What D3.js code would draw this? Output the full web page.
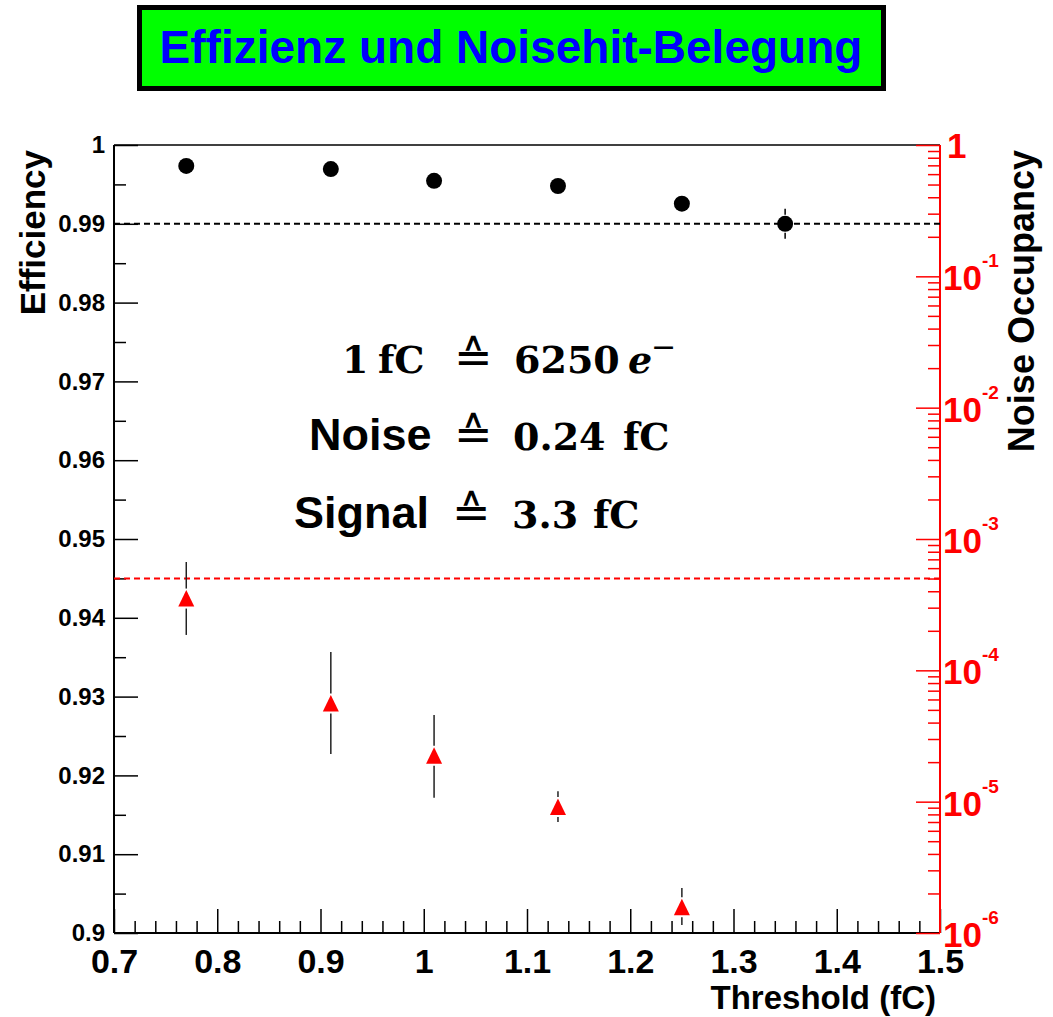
<!DOCTYPE html>
<html>
<head>
<meta charset="utf-8">
<title>Effizienz und Noisehit-Belegung</title>
<script src="https://d3js.org/d3.v7.min.js"></script>
<style>
  body { margin: 0; background: #fff; }
  svg { display: block; }
  .sans { font-family: "Liberation Sans", Arial, sans-serif; font-weight: bold; }
  .serif { font-family: "DejaVu Serif", serif; font-weight: bold; }
  .sym { font-family: "DejaVu Serif", serif; font-weight: normal; }
</style>
</head>
<body>
<svg width="1053" height="1017"></svg>
<script>
  // data
  const thresholds = [0.77, 0.91, 1.01, 1.13, 1.25, 1.35];
  const efficiency = [0.99734, 0.99695, 0.99545, 0.9948, 0.99255, 0.99000];
  const effError = [0.0006, 0.0006, 0.0007, 0.0007, 0.0009, 0.0019];

  const noiseThresholds = [0.77, 0.91, 1.01, 1.13, 1.25];
  const noiseOcc = [3.52e-4, 5.59e-5, 2.24e-5, 9.1e-6, 1.57e-6];
  const noiseLow = [1.86e-4, 2.31e-5, 1.07e-5, 7.0e-6, 1.15e-6];
  const noiseHigh = [6.68e-4, 1.38e-4, 4.57e-5, 1.20e-5, 2.20e-6];

  const effCut = 0.99;
  const noiseCut = 5e-4;

  const xTicks = [0.7, 0.8, 0.9, 1.0, 1.1, 1.2, 1.3, 1.4, 1.5];
  const xTickLabels = ["0.7", "0.8", "0.9", "1", "1.1", "1.2", "1.3", "1.4", "1.5"];
  const effTicks = [0.9, 0.91, 0.92, 0.93, 0.94, 0.95, 0.96, 0.97, 0.98, 0.99, 1.0];
  const effTickLabels = ["0.9", "0.91", "0.92", "0.93", "0.94", "0.95", "0.96", "0.97", "0.98", "0.99", "1"];
  const noiseDecades = [1e-6, 1e-5, 1e-4, 1e-3, 1e-2, 1e-1, 1];
  const noiseExponents = ["-6", "-5", "-4", "-3", "-2", "-1", ""];

  const svg = d3.select("svg");
  const pLeft = 114, pRight = 940, pTop = 145, pBottom = 933;
  const red = "#ff0000";

  let x = d3.scaleLinear().domain([0.7, 1.5]).range([pLeft, pRight]);
  let yEff = d3.scaleLinear().domain([0.9, 1.0]).range([pBottom, pTop]);
  let yNoise = d3.scaleLog().domain([1e-6, 1]).range([pBottom, pTop]);

  // title box
  svg.append("rect").attr("x", 139.5).attr("y", 7.5).attr("width", 744).attr("height", 81)
      .attr("fill", "#00ff00").attr("stroke", "#000").attr("stroke-width", 5);
  svg.append("text").attr("class", "sans").attr("x", 511).attr("y", 63)
      .attr("text-anchor", "middle").attr("font-size", 46).attr("fill", "#0000ff")
      .text("Effizienz und Noisehit-Belegung");

  // frame
  svg.append("line").attr("x1", pLeft).attr("x2", pRight).attr("y1", pTop).attr("y2", pTop)
      .attr("stroke", "#000").attr("stroke-width", 2);

  // x axis
  let xMinor = d3.range(0.72, 1.5, 0.02).filter(v => Math.abs(v * 10 - Math.round(v * 10)) > 1e-6);
  svg.append("g").attr("transform", "translate(0," + pBottom + ")")
      .call(d3.axisBottom(x).tickValues(xMinor).tickSize(-12).tickFormat(""))
      .call(g => g.select(".domain").remove());
  let gx = svg.append("g").attr("transform", "translate(0," + pBottom + ")");
  gx.call(d3.axisBottom(x).tickValues(xTicks).tickSize(-24).tickPadding(16)
      .tickFormat((d, i) => xTickLabels[i]));
  gx.select(".domain").attr("stroke-width", 2).attr("d", "M" + pLeft + ",0H" + pRight);
  gx.selectAll("text").attr("class", "sans").attr("font-size", 34).attr("fill", "#000").attr("dy", "0.71em");
  svg.selectAll("line").attr("stroke-width", 1.5);

  // left axis
  let effMinor = d3.range(0.905, 1.0, 0.01);
  svg.append("g").attr("transform", "translate(" + pLeft + ",0)")
      .call(d3.axisLeft(yEff).tickValues(effMinor).tickSize(-12).tickFormat(""))
      .call(g => g.select(".domain").remove())
      .selectAll("line").attr("stroke-width", 1.5);
  let gl = svg.append("g").attr("transform", "translate(" + pLeft + ",0)");
  gl.call(d3.axisLeft(yEff).tickValues(effTicks).tickSize(-24).tickPadding(9)
      .tickFormat((d, i) => effTickLabels[i]));
  gl.select(".domain").attr("stroke-width", 2).attr("d", "M0," + pTop + "V" + pBottom);
  gl.selectAll("line").attr("stroke-width", 1.5);
  gl.selectAll("text").attr("class", "sans").attr("font-size", 24).attr("fill", "#000");

  // right log axis (red)
  let noiseMinor = [];
  noiseDecades.slice(0, -1).forEach(d => { for (let k = 2; k <= 9; k++) noiseMinor.push(d * k); });
  svg.append("g").attr("transform", "translate(" + pRight + ",0)")
      .call(d3.axisRight(yNoise).tickValues(noiseMinor).tickSize(-12).tickFormat(""))
      .call(g => g.select(".domain").remove())
      .selectAll("line").attr("stroke", red).attr("stroke-width", 1.5);
  let gr = svg.append("g").attr("transform", "translate(" + pRight + ",0)");
  gr.call(d3.axisRight(yNoise).tickValues(noiseDecades).tickSize(-24).tickFormat(""));
  gr.select(".domain").attr("stroke", red).attr("stroke-width", 2).attr("d", "M0," + pTop + "V" + pBottom);
  gr.selectAll("line").attr("stroke", red).attr("stroke-width", 1.5);

  let rl = svg.append("g").attr("class", "sans").attr("fill", red);
  noiseDecades.forEach((d, i) => {
    let yy = yNoise(d);
    if (noiseExponents[i] === "") {
      rl.append("text").attr("x", 947).attr("y", yy + 13).attr("font-size", 35).text("1");
    } else {
      let t = rl.append("text").attr("x", 943).attr("y", yy + 14).attr("font-size", 35);
      t.append("tspan").text("10");
      t.append("tspan").attr("dx", 0).attr("dy", -23).attr("font-size", 19).text(noiseExponents[i]);
    }
  });

  // axis titles
  svg.append("text").attr("class", "sans").attr("font-size", 35)
      .attr("transform", "translate(45,150) rotate(-90)").attr("text-anchor", "end").text("Efficiency");
  svg.append("text").attr("class", "sans").attr("font-size", 36)
      .attr("transform", "translate(1034,150) rotate(-90)").attr("text-anchor", "end").text("Noise Occupancy");
  svg.append("text").attr("class", "sans").attr("font-size", 33)
      .attr("x", 936).attr("y", 1009).attr("text-anchor", "end").text("Threshold (fC)");

  // cut lines
  svg.append("line").attr("x1", pLeft).attr("x2", pRight)
      .attr("y1", yEff(effCut)).attr("y2", yEff(effCut))
      .attr("stroke", "#000").attr("stroke-width", 2).attr("stroke-dasharray", "6,4");
  svg.append("line").attr("x1", pLeft).attr("x2", pRight)
      .attr("y1", yNoise(noiseCut)).attr("y2", yNoise(noiseCut))
      .attr("stroke", red).attr("stroke-width", 2).attr("stroke-dasharray", "6,4");

  // efficiency points
  let effData = thresholds.map((t, i) => ({ t: t, v: efficiency[i], e: effError[i] }));
  let ge = svg.append("g");
  effData.forEach(d => {
    let cx = x(d.t), cy = yEff(d.v);
    let y1 = yEff(d.v + d.e), y2 = yEff(d.v - d.e);
    if (cy - y1 > 9) {
      ge.append("line").attr("x1", cx).attr("x2", cx).attr("y1", y1).attr("y2", cy - 9)
          .attr("stroke", "#000").attr("stroke-width", 1.5);
      ge.append("line").attr("x1", cx).attr("x2", cx).attr("y1", cy + 9).attr("y2", y2)
          .attr("stroke", "#000").attr("stroke-width", 1.5);
    }
    ge.append("circle").attr("cx", cx).attr("cy", cy).attr("r", 8).attr("fill", "#000");
  });

  // noise occupancy points
  let noiseData = noiseThresholds.map((t, i) => ({ t: t, v: noiseOcc[i], lo: noiseLow[i], hi: noiseHigh[i] }));
  let gn = svg.append("g");
  noiseData.forEach(d => {
    let cx = x(d.t), cy = yNoise(d.v);
    let y1 = yNoise(d.hi), y2 = yNoise(d.lo);
    gn.append("line").attr("x1", cx).attr("x2", cx).attr("y1", y1).attr("y2", cy - 10)
        .attr("stroke", "#222").attr("stroke-width", 1.5);
    gn.append("line").attr("x1", cx).attr("x2", cx).attr("y1", cy + 10).attr("y2", y2)
        .attr("stroke", "#222").attr("stroke-width", 1.5);
    gn.append("path")
        .attr("d", "M" + cx + "," + (cy - 8.5) + "L" + (cx + 8) + "," + (cy + 8) + "L" + (cx - 8) + "," + (cy + 8) + "Z")
        .attr("fill", red);
  });

  // annotation text
  const corr = "\u2259";
  let ann = svg.append("g").attr("fill", "#000");
  let t1 = ann.append("text").attr("y", 373).attr("font-size", 38);
  t1.append("tspan").attr("class", "serif").attr("x", 342).text("1");
  t1.append("tspan").attr("class", "serif").attr("x", 378).text("fC");
  t1.append("tspan").attr("class", "sym").attr("x", 454).attr("font-size", 46).text(corr);
  t1.append("tspan").attr("class", "serif").attr("x", 514).text("6250");
  t1.append("tspan").attr("class", "serif").attr("x", 628).attr("font-style", "italic").text("e");
  t1.append("tspan").attr("x", 651).attr("dy", -16).attr("font-family", "DejaVu Sans").attr("font-size", 30).text("\u2212");

  let t2 = ann.append("text").attr("y", 450).attr("font-size", 38);
  t2.append("tspan").attr("class", "sans").attr("x", 309).attr("font-size", 45).text("Noise");
  t2.append("tspan").attr("class", "sym").attr("x", 454).attr("font-size", 46).text(corr);
  t2.append("tspan").attr("class", "serif").attr("x", 513).text("0.24");
  t2.append("tspan").attr("class", "serif").attr("x", 623).text("fC");

  let t3 = ann.append("text").attr("y", 528).attr("font-size", 38);
  t3.append("tspan").attr("class", "sans").attr("x", 294).attr("font-size", 45).text("Signal");
  t3.append("tspan").attr("class", "sym").attr("x", 452).attr("font-size", 46).text(corr);
  t3.append("tspan").attr("class", "serif").attr("x", 512).text("3.3");
  t3.append("tspan").attr("class", "serif").attr("x", 593).text("fC");
</script>
</body>
</html>
